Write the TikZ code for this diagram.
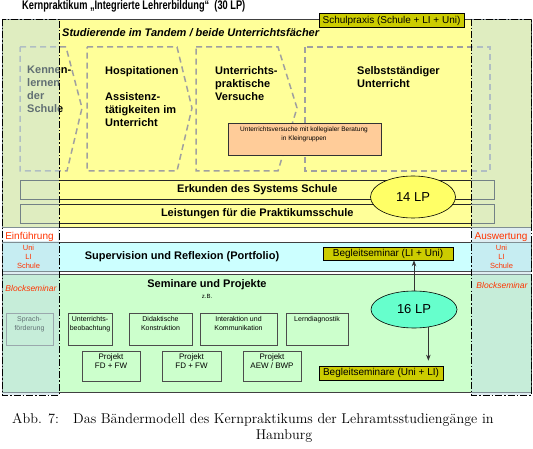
\documentclass[tikz,border=0pt]{standalone}
\usepackage{fontspec}
\usepackage{graphicx}
\newfontfamily\arial{Liberation Sans}
\usetikzlibrary{arrows.meta,shapes.geometric}
\definecolor{ybg}{HTML}{FFFF99}
\definecolor{cbg}{HTML}{CCFFFF}
\definecolor{gbg}{HTML}{CCFFCC}
\definecolor{colbg}{HTML}{C1DDE7}
\definecolor{olivebox}{HTML}{CCCC00}
\definecolor{salmon}{HTML}{FFCC99}
\definecolor{lpyellow}{HTML}{FFFF66}
\definecolor{lpgreen}{HTML}{66FFCC}
\definecolor{redlab}{HTML}{FF3300}
\definecolor{chevgray}{HTML}{A0A0A0}
\begin{document}
\begin{tikzpicture}[x=1pt,y=-1pt,
  band/.style={draw=black!75, line width=0.6pt},
  chev/.style={draw=chevgray, line width=1.5pt, dash pattern=on 6pt off 4pt},
  colov/.style={draw=black, line width=0.7pt, dash pattern=on 7pt off 2pt on 1.5pt off 2pt, fill=colbg, fill opacity=0.5},
  btext/.style={inner sep=0pt, font=\arial\bfseries\fontsize{11}{13}\selectfont},
  blefttext/.style={btext, anchor=north west, align=left},
  lbox/.style={draw=black!85, line width=0.6pt, inner sep=0pt, anchor=north west, font=\arial\bfseries\fontsize{11}{13}\selectfont},
  olivelab/.style={draw=black, line width=0.6pt, fill=olivebox, inner sep=0pt, font=\arial\fontsize{10}{12}\selectfont},
  sbox/.style={draw=black!70, line width=0.8pt, inner sep=0pt, anchor=north west},
  stext/.style={inner sep=0pt, anchor=north, align=center, font=\arial\fontsize{7}{9}\selectfont},
  ptext/.style={inner sep=0pt, anchor=north, align=center, font=\arial\fontsize{8}{9}\selectfont},
  lpell/.style={ellipse, draw=black, line width=0.6pt, inner sep=0pt, font=\arial\fontsize{13}{15}\selectfont},
  redtext/.style={inner sep=0pt, text=redlab, align=center},
  arr/.style={draw=black!80, line width=0.8pt, -{Stealth[length=6pt,width=4.5pt]}},
  captext/.style={inner sep=0pt, font=\fontsize{14.2}{17}\selectfont}
]
\useasboundingbox (0,0) rectangle (533,449);
\fill[white] (0,0) rectangle (533,449);

% bands
\draw[band, fill=ybg] (2,19) rectangle (531,227);
\draw[band, fill=cbg] (2,242) rectangle (531,271);
\draw[band, fill=gbg] (2,274) rectangle (531,392);

% dashed phase shapes
\draw[chev] (20,47) -- (66,47) -- (82,108) -- (67,171) -- (20,171) -- cycle;
\draw[chev] (87,47) -- (177,47) -- (192,108) -- (177,171) -- (87,171) -- cycle;
\draw[chev] (196,47) -- (278,47) -- (297,108) -- (278,171) -- (196,171) -- cycle;
\draw[chev] (305,47) rectangle (490,171);

% texts in top band
\node[inner sep=0pt, anchor=base west, font=\arial\bfseries\itshape\fontsize{11}{13}\selectfont] (tandem) at (62,37) {Studierende im Tandem / beide Unterrichtsfächer};
\node[blefttext] (kennen) at (27,66) {Kennen-\\lernen\\der\\Schule};
\node[blefttext] (hosp) at (105,66) {Hospitationen};
\node[blefttext] (assist) at (105,92) {Assistenz-\\tätigkeiten im\\Unterricht};
\node[blefttext] (upv) at (215,66) {Unterrichts-\\praktische\\Versuche};
\node[blefttext] (selbst) at (357,66) {Selbstständiger\\Unterricht};

\node[draw=black!80, fill=salmon, line width=0.6pt, minimum width=153pt, minimum height=32pt, anchor=north west, inner sep=0pt] (salbox) at (228,123) {};
\node[inner sep=0pt, anchor=north, align=center, font=\arial\fontsize{6.5}{9.5}\selectfont] (saltext) at (304,126.5) {Unterrichtsversuche mit kollegialer Beratung\\in Kleingruppen};

\node[lbox, minimum width=474pt, minimum height=19pt] (erk) at (20,180) {Erkunden des Systems Schule};
\node[lbox, minimum width=474pt, minimum height=19pt] (leist) at (20,204) {Leistungen für die Praktikumsschule};
\node[lpell, fill=lpyellow, minimum width=85pt, minimum height=42pt] (lp14) at (413,197) {14 LP};

% supervision band
\node[btext] (sup) at (182,257) {Supervision und Reflexion (Portfolio)};
\node[olivelab, minimum width=130pt, minimum height=13pt] (bs1) at (388,253.5) {Begleitseminar (LI + Uni)};

% seminar band
\node[btext] (sem) at (207,285) {Seminare und Projekte};
\node[inner sep=0pt, font=\arial\fontsize{6}{7}\selectfont] (zb) at (207,296) {z.B.};

\node[sbox, draw=black!55, minimum width=47pt, minimum height=32pt] (sprach) at (6,313) {};
\node[stext] (sprachT) at (29.5,316.5) {Sprach-\\förderung};
\node[sbox, minimum width=44pt, minimum height=32pt] (ub) at (68,313) {};
\node[stext] (ubT) at (90,316.5) {Unterrichts-\\beobachtung};
\node[sbox, minimum width=63pt, minimum height=32pt] (dk) at (129,313) {};
\node[stext] (dkT) at (160.5,316.5) {Didaktische\\Konstruktion};
\node[sbox, minimum width=77pt, minimum height=32pt] (ik) at (200,313) {};
\node[stext] (ikT) at (238.5,316.5) {Interaktion und\\Kommunikation};
\node[sbox, minimum width=62pt, minimum height=32pt] (ld) at (286,313) {};
\node[stext] (ldT) at (317,316.5) {Lerndiagnostik};

\node[sbox, minimum width=58pt, minimum height=30pt] (p1) at (82,351) {};
\node[ptext] (p1T) at (111,353.5) {Projekt\\FD + FW};
\node[sbox, minimum width=59pt, minimum height=30pt] (p2) at (162,351) {};
\node[ptext] (p2T) at (191.5,353.5) {Projekt\\FD + FW};
\node[sbox, minimum width=58pt, minimum height=30pt] (p3) at (243,351) {};
\node[ptext] (p3T) at (272,353.5) {Projekt\\AEW / BWP};

\node[lpell, fill=lpgreen, minimum width=86pt, minimum height=37pt] (lp16) at (414,309.5) {16 LP};
\node[olivelab, minimum width=124pt, minimum height=14pt] (bs2) at (381,373) {Begleitseminare (Uni + LI)};

\draw[arr] (lp16.north) -- (lp16.north |- bs1.south);
\draw[arr, shorten >=5pt] (lp16.-51) -- (lp16.-51 |- bs2.north);

% column overlays
\draw[colov] (2,19) rectangle (59,395);
\draw[colov] (471,19) rectangle (531,395);
\fill[white] (2.6,228) rectangle (58.4,241.4);

% column labels
\node[redtext, font=\arial\fontsize{10}{12}\selectfont] (einf) at (29.5,237) {Einführung};
\node[redtext, font=\arial\fontsize{7.5}{9}\selectfont] (ulsL) at (28.5,257) {Uni\\LI\\Schule};
\node[redtext, font=\arial\itshape\fontsize{8.5}{10}\selectfont] (blockL) at (31,288) {Blockseminar};
\node[redtext, font=\arial\fontsize{10}{12}\selectfont] (ausw) at (501,237) {Auswertung};
\node[redtext, font=\arial\fontsize{7.5}{9}\selectfont] (ulsR) at (501.5,257) {Uni\\LI\\Schule};
\node[redtext, font=\arial\itshape\fontsize{8.5}{10}\selectfont] (blockR) at (502,285) {Blockseminar};

% label on top
\node[olivelab, minimum width=145pt, minimum height=13.5pt] (schulpraxis) at (391.5,20.5) {Schulpraxis (Schule + LI + Uni)};

% title
\node[anchor=base west, inner sep=0pt, font=\arial\bfseries\fontsize{12.5}{14}\selectfont] (title) at (22,9.5) {\scalebox{0.74}[1]{Kernpraktikum „Integrierte Lehrerbildung“~~(30 LP)}};

% caption
\node[captext, anchor=base west] (cap1) at (12,423) {Abb. 7:};
\node[captext, anchor=base west] (cap2) at (73,423) {Das Bändermodell des Kernpraktikums der Lehramtsstudiengänge in};
\node[captext, anchor=base] (cap3) at (284,439) {Hamburg};
\end{tikzpicture}
\end{document}
